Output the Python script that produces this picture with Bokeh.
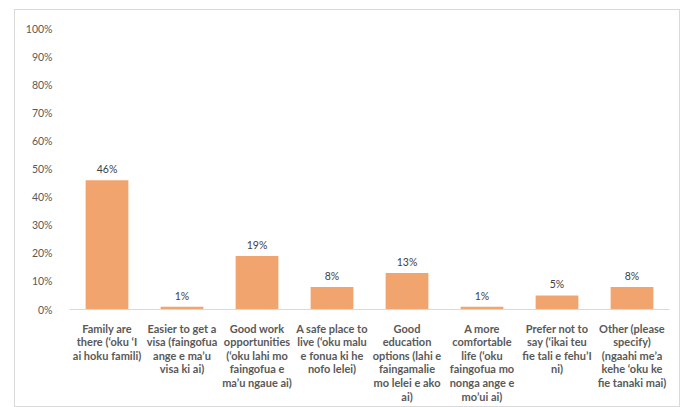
from bokeh.plotting import figure
from bokeh.models import ColumnDataSource, FactorRange, Range1d, FixedTicker, NumeralTickFormatter
from bokeh.core.properties import value
from bokeh.embed import file_html
from bokeh.resources import INLINE

labels = [
    "Family are\nthere (‘oku ‘I\nai hoku famili)",
    "Easier to get a\nvisa (faingofua\nange e ma’u\nvisa ki ai)",
    "Good work\nopportunities\n(‘oku lahi mo\nfaingofua e\nma’u ngaue ai)",
    "A safe place to\nlive (‘oku malu\ne fonua ki he\nnofo lelei)",
    "Good\neducation\noptions (lahi e\nfaingamalie\nmo lelei e ako\nai)",
    "A more\ncomfortable\nlife (‘oku\nfaingofua mo\nnonga ange e\nmo’ui ai)",
    "Prefer not to\nsay (‘ikai teu\nfie tali e fehu’I\nni)",
    "Other (please\nspecify)\n(ngaahi me’a\nkehe ‘oku ke\nfie tanaki mai)",
]
values = [0.46, 0.01, 0.19, 0.08, 0.13, 0.01, 0.05, 0.08]
value_labels = ["46%", "1%", "19%", "8%", "13%", "1%", "5%", "8%"]
y_ticks = [0.0, 0.1, 0.2, 0.3, 0.4, 0.5, 0.6, 0.7, 0.8, 0.9, 1.0]

src = ColumnDataSource(dict(cat=labels, val=values, vlab=value_labels))

p = figure(x_range=FactorRange(*labels, range_padding=0),
           y_range=Range1d(0, 1),
           width=666, height=398, output_backend="svg", toolbar_location=None,
           min_border_left=54, min_border_right=12, min_border_top=18, min_border_bottom=99)
p.styles = {"margin-left": "14px", "margin-top": "9px", "border": "1px solid #d9d9d9",
            "box-sizing": "border-box"}
p.outline_line_color = None
p.xgrid.visible = False
p.ygrid.visible = False

p.vbar(x="cat", top="val", width=0.57, source=src, fill_color="#F2A46F", line_color=None)

p.text(x="cat", y="val", text="vlab", source=src, text_align="center",
       text_baseline="bottom", y_offset=-5, text_font=value("Lato"),
       text_font_size="10.5px", text_color="#404040")

p.xaxis.major_label_text_font = "Lato"
p.xaxis.major_label_text_font_size = "11px"
p.xaxis.major_label_text_font_style = "bold"
p.xaxis.major_label_text_color = "#595959"
p.xaxis.major_label_text_line_height = 1.05
p.xaxis.major_tick_line_color = None
p.xaxis.minor_tick_line_color = None
p.xaxis.axis_line_color = "#D9D9D9"
p.xaxis.major_label_standoff = 6

p.yaxis.ticker = FixedTicker(ticks=y_ticks)
p.yaxis.formatter = NumeralTickFormatter(format="0%")
p.yaxis.axis_line_color = None
p.yaxis.major_tick_line_color = None
p.yaxis.minor_tick_line_color = None
p.yaxis.major_label_standoff = 11
p.yaxis.major_label_text_font = "Lato"
p.yaxis.major_label_text_font_size = "10.5px"
p.yaxis.major_label_text_color = "#595959"

open("out.html", "w").write(file_html(p, INLINE))
